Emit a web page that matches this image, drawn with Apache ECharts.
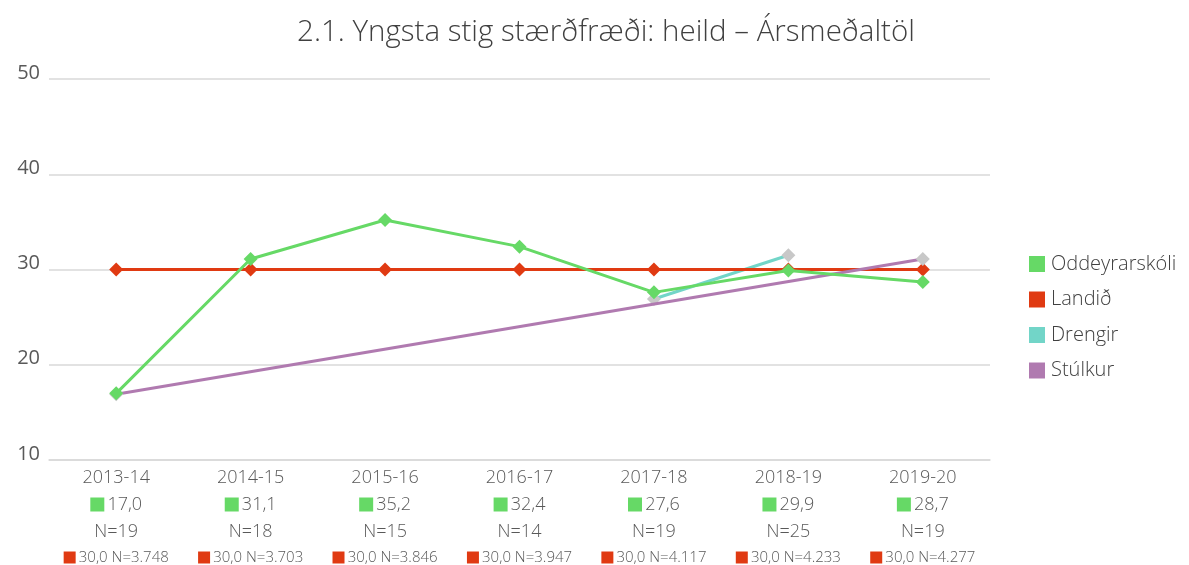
<!DOCTYPE html>
<html>
<head>
<meta charset="utf-8">
<script src="https://cdn.jsdelivr.net/npm/echarts@6/dist/echarts.min.js"></script>
<style>
  html, body { margin: 0; padding: 0; background: #fff; }
  #chart { width: 1189px; height: 565px; }
</style>
</head>
<body>
<div id="chart"></div>
<script>
var years = ['2013-14', '2014-15', '2015-16', '2016-17', '2017-18', '2018-19', '2019-20'];
var oddeyri = [17.0, 31.1, 35.2, 32.4, 27.6, 29.9, 28.7];
var oddeyriN = [19, 18, 15, 14, 19, 25, 19];
var landid = [30.0, 30.0, 30.0, 30.0, 30.0, 30.0, 30.0];
var landidN = [3748, 3703, 3846, 3947, 4117, 4233, 4277];
var drengir = [null, null, null, null, 26.9, 31.5, null];
var stulkur = [16.9, null, null, null, null, null, 31.1];

var fontFam = '"Open Sans", "Noto Sans", sans-serif';

function comma(v) { return v.toFixed(1).replace('.', ','); }
function thous(n) { return String(n).replace(/\B(?=(\d{3})+(?!\d))/g, '.'); }

var chart = echarts.init(document.getElementById('chart'));

var diamond = 'diamond';

chart.setOption({
  backgroundColor: '#fff',
  title: {
    text: '2.1. Yngsta stig stærðfræði: heild – Ársmeðaltöl',
    left: 601,
    textAlign: 'center',
    top: 13,
    textStyle: { fontFamily: fontFam, fontSize: 29.5, fontWeight: 300, color: '#404040' }
  },
  legend: {
    orient: 'vertical',
    left: 1024,
    top: 249,
    itemGap: 15.5,
    itemWidth: 16,
    itemHeight: 16,
    icon: 'rect',
    textStyle: { fontFamily: fontFam, fontSize: 20, fontWeight: 300, color: '#404040', padding: [0, 0, 0, 1] },
    data: [
      { name: 'Oddeyrarskóli', itemStyle: { color: '#66d966' } },
      { name: 'Landið', itemStyle: { color: '#e03a12' } },
      { name: 'Drengir', itemStyle: { color: '#72d5c8' } },
      { name: 'Stúlkur', itemStyle: { color: '#b07ab0' } }
    ]
  },
  grid: { left: 49, right: 199, top: 79, bottom: 104 },
  xAxis: {
    type: 'category',
    data: years,
    boundaryGap: true,
    axisLine: { show: true, lineStyle: { color: '#d9d9d9', width: 1.5 } },
    axisTick: { show: false },
    axisLabel: {
      interval: 0,
      margin: 4,
      color: '#595959',
      fontFamily: fontFam,
      formatter: function (val, i) {
        return '{y|' + val + '}\n{gs| } {v|' + comma(oddeyri[i]) + '}\n{n|N=' + oddeyriN[i] + '}\n{rs| } {s|' +
          comma(landid[i]) + ' N=' + thous(landidN[i]) + '}';
      },
      rich: {
        y: { fontSize: 18, lineHeight: 27, color: '#595959', fontFamily: fontFam, fontWeight: 300 },
        v: { fontSize: 18, lineHeight: 27, color: '#595959', fontFamily: fontFam, fontWeight: 300 },
        n: { fontSize: 18, lineHeight: 27, color: '#595959', fontFamily: fontFam, fontWeight: 300 },
        s: { fontSize: 15, lineHeight: 25, color: '#595959', fontFamily: fontFam, fontWeight: 300 },
        gs: { backgroundColor: '#66d966', width: 14, height: 14, lineHeight: 27 },
        rs: { backgroundColor: '#e03a12', width: 12, height: 12, lineHeight: 25 }
      }
    }
  },
  yAxis: {
    type: 'value',
    min: 10,
    max: 50,
    interval: 10,
    axisLine: { show: false },
    axisTick: { show: false },
    axisLabel: {
      color: '#595959', fontSize: 20, fontFamily: fontFam, fontWeight: 400, margin: 9,
      verticalAlign: 'bottom', align: 'right', lineHeight: 12
    },
    splitLine: { lineStyle: { color: '#d9d9d9', width: 1.5 } }
  },
  series: [
    {
      name: 'Landið', type: 'line', data: landid, z: 3,
      symbol: diamond, symbolSize: 14,
      lineStyle: { color: '#e03a12', width: 3 },
      itemStyle: { color: '#e03a12' }
    },
    {
      name: 'Drengir', type: 'line', data: drengir, z: 2, connectNulls: true,
      symbol: diamond, symbolSize: 14,
      lineStyle: { color: '#72d5c8', width: 3 },
      itemStyle: { color: '#c8c8c8' }
    },
    {
      name: 'Stúlkur', type: 'line', data: stulkur, z: 4, connectNulls: true,
      symbol: diamond, symbolSize: 14,
      lineStyle: { color: '#b07ab0', width: 3 },
      itemStyle: { color: '#c8c8c8' }
    },
    {
      name: 'Oddeyrarskóli', type: 'line', data: oddeyri, z: 5,
      symbol: diamond, symbolSize: 14,
      lineStyle: { color: '#66d966', width: 3 },
      itemStyle: { color: '#66d966' }
    }
  ],
  animation: false
});
</script>
</body>
</html>
